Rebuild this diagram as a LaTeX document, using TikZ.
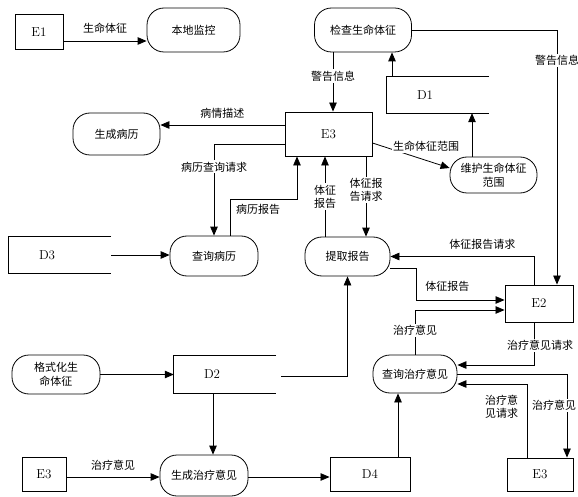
\documentclass[tikz,border=0pt]{standalone}
\usepackage{fontspec}
\newfontfamily\cjk{Noto Sans CJK SC}
\usetikzlibrary{positioning, arrows.meta}

\begin{document}
\begin{tikzpicture}[
    x=1pt, y=-1pt,
    entity/.style={rectangle, draw, line width=0.9pt, font=\fontsize{13}{15}\selectfont},
    proc/.style={rectangle, draw, rounded corners=17pt, line width=0.8pt, align=center, font=\cjk\fontsize{11}{14}\selectfont},
    store/.style={text width=42pt, inner xsep=30pt, inner ysep=0pt, align=left, font=\fontsize{13}{15}\selectfont},
    arrow/.style={-{Triangle[length=9pt, width=7.5pt]}, line width=0.8pt},
    lbl/.style={font=\cjk\fontsize{11}{13}\selectfont, inner sep=1.5pt, align=center},
    lblw/.style={lbl, fill=white}
]
    \useasboundingbox (0,0) rectangle (578,497);

    \node[entity, minimum width=48pt, minimum height=35pt] (e1) at (39,32) {E1};
    \node[entity, minimum width=87pt, minimum height=44pt] (e3) at (328.5,134) {E3};
    \node[entity, minimum width=68pt, minimum height=37pt] (e2) at (539,303.5) {E2};
    \node[entity, minimum width=44pt, minimum height=34pt] (e3l) at (44,474) {E3};
    \node[entity, minimum width=66pt, minimum height=33pt] (e3r) at (540,474.5) {E3};
    \node[entity, minimum width=80pt, minimum height=34pt] (d4) at (370,474) {D4};

    \node[proc, minimum width=93pt, minimum height=44pt] (bdjk) at (193.5,30) {本地监控};
    \node[proc, minimum width=97pt, minimum height=44pt] (jcsm) at (363,30) {检查生命体征};
    \node[proc, minimum width=87pt, minimum height=42pt] (scbl) at (116.5,134) {生成病历};
    \node[proc, minimum width=88pt, minimum height=40pt] (cxbl) at (214,256) {查询病历};
    \node[proc, minimum width=85pt, minimum height=39pt] (tqbg) at (347.5,256.5) {提取报告};
    \node[proc, minimum width=87pt, minimum height=36pt] (whfw) at (493.5,175) {维护生命体征\\范围};
    \node[proc, minimum width=84pt, minimum height=38pt] (cxzl) at (415,374) {查询治疗意见};
    \node[proc, minimum width=88pt, minimum height=39pt] (gsh) at (56,374.5) {格式化生\\命体征};
    \node[proc, minimum width=88pt, minimum height=41pt] (sczl) at (204,475.5) {生成治疗意见};

    \node[store, minimum height=36pt] (d1) at (438,95) {D1};
    \node[store, minimum height=37pt] (d2) at (225,374.5) {D2};
    \node[store, minimum height=36pt] (d3) at (60,255) {D3};
    \foreach \s in {d1,d2,d3}
        \draw[line width=0.8pt] (\s.north east) -- (\s.north west) -- (\s.south west) -- (\s.south east);

    \draw[arrow] ([yshift=-9pt]e1.east) -- ([yshift=-9pt]e1.east -| bdjk.west) node[lbl, above=6pt, midway] {生命体征};
    \draw[arrow] ([xshift=-30pt]jcsm.south) -- ([xshift=-30pt]jcsm.south |- e3.north) node[lblw, pos=0.4] {警告信息};
    \draw[arrow] ([xshift=-46pt]d1.north) -- ([xshift=-46pt]d1.north |- jcsm.south);
    \draw[arrow] (jcsm.east) -| ([xshift=18pt]e2.north) node[lblw, pos=0.56] {警告信息};
    \draw[arrow] ([xshift=-21.5pt]whfw.north) -- ([xshift=-21.5pt]whfw.north |- d1.south);
    \draw[arrow] ([yshift=-9pt]e3.east) -- ([yshift=7pt]whfw.west) node[lblw, pos=0.5, xshift=15pt, yshift=9.5pt] {生命体征范围};
    \draw[arrow] ([yshift=9pt]e3.west) -- ([yshift=9pt]e3.west -| scbl.east) node[lbl, above=5pt, midway] {病情描述};
    \draw[arrow] ([yshift=-10pt]e3.west) -| (cxbl.north) node[lblw, pos=0.625] {病历查询请求};
    \draw[arrow] ([xshift=16pt]cxbl.north) -- ++(0,-36) -| ([xshift=-31.5pt]e3.south) node[lbl, below=3pt, pos=0.21] {病历报告};
    \draw[arrow] ([xshift=-22.5pt]tqbg.north) -- ([xshift=-22.5pt]tqbg.north |- e3.south) node[lblw, midway] {体征\\报告};
    \draw[arrow] ([xshift=37.5pt]e3.south) -- ([xshift=37.5pt]e3.south |- tqbg.north) node[lblw, pos=0.42] {体征报\\告请求};
    \draw[arrow] (d3.east) -- (d3.east -| cxbl.west);
    \draw[arrow] ([xshift=-5pt]e2.north) |- (tqbg.east) node[lbl, above=5pt, pos=0.68] {体征报告请求};
    \draw[arrow] ([yshift=-11.5pt]tqbg.east) -- ++(26,0) |- ([yshift=3.5pt]e2.west) node[lbl, above=7pt, pos=0.675] {体征报告};
    \draw[arrow] (cxzl.north) |- ([yshift=-6.5pt]e2.west) node[lblw, pos=0.27] {治疗意见};
    \draw[arrow] ([xshift=-5pt]e2.south) |- ([yshift=9pt]cxzl.east) node[lblw, pos=0.27, xshift=6pt] {治疗意见请求};
    \draw[arrow] (cxzl.east) -| ([xshift=27pt]e3r.north) node[lblw, pos=0.69, xshift=-13pt] {治疗意见};
    \draw[arrow] ([xshift=-13pt]e3r.north) |- ([yshift=-10pt]cxzl.east) node[lbl, left=7pt, pos=0.345] {治疗意\\见请求};
    \draw[arrow] ([xshift=28pt]d4.north) -- ([xshift=28pt]d4.north |- cxzl.south);
    \draw[arrow] ([yshift=-1.5pt]sczl.east) -- ([yshift=-1.5pt]sczl.east -| d4.west);
    \draw[arrow] ([yshift=-3pt]e3l.east) -- ([yshift=-3pt]e3l.east -| sczl.west) node[lbl, above=5pt, midway] {治疗意见};
    \draw[arrow] ([xshift=-12pt]d2.south) -- ([xshift=-12pt]d2.south |- sczl.north);
    \draw[arrow] (gsh.east) -- (gsh.east -| d2.west);
    \draw[arrow] ([xshift=5pt, yshift=-2pt]d2.east) -| (tqbg.south);
\end{tikzpicture}
\end{document}
